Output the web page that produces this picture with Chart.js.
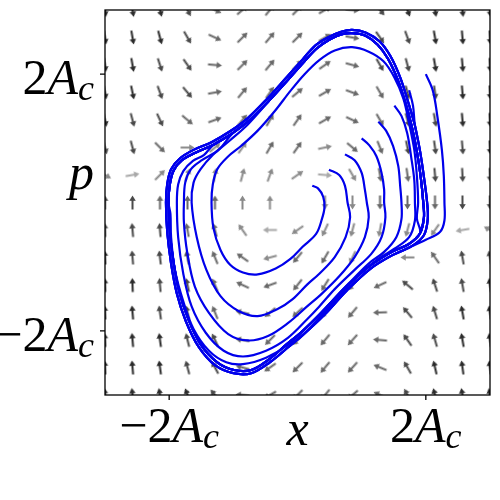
<!DOCTYPE html>
<html>
<head>
<meta charset="utf-8">
<script src="https://cdn.jsdelivr.net/npm/chart.js@4.4.1/dist/chart.umd.min.js"></script>
<style>
  html, body { margin: 0; padding: 0; background: #fff; }
  canvas { display: block; }
</style>
</head>
<body>
<canvas id="phase" width="500" height="500"></canvas>
<script>
// axis ticks (units of A_c); the axis names sit at the middle tick
const xTickValues = [-2, 0, 2];
const xTickLabels = ['−2A_c', 'x', '2A_c'];
const yTickValues = [2, 0, -2];
const yTickLabels = ['2A_c', 'p', '−2A_c'];
const tickMarks = [-2, 2];

// quiver grid
const gridX = [-3, -2.571, -2.143, -1.714, -1.286, -0.857, -0.429, 0, 0.429, 0.857, 1.286, 1.714, 2.143, 2.571, 3];
const gridY = [3, 2.571, 2.143, 1.714, 1.286, 0.857, 0.429, 0, -0.429, -0.857, -1.286, -1.714, -2.143, -2.571, -3];

// arrow direction in degrees (0 = right, 90 = up), one row per gridY value
const arrowAngle = [
  [-82, -80, -75, -62, -25, 40, 50, 45, 30, -5, -50, -70, -80, -84, -86],
  [-81, -80, -75, -60, -25, 45, 50, 45, 30, -10, -55, -70, -80, -85, -87],
  [-82, -80, -72, -55, -5, 45, 50, 45, 35, -15, -60, -75, -80, -85, -87],
  [-80, -78, -70, -50, 10, 50, 55, 40, 30, -20, -60, -75, -82, -85, -87],
  [-78, -75, -65, -40, 20, 50, 60, 55, 30, -25, -60, -75, -80, -85, -87],
  [-75, -75, -45, 0, 40, 55, 60, 55, 12, -40, -68, -78, -82, -85, -87],
  [-30, 10, 45, 70, 80, 75, 70, 35, -5, -60, -80, -82, -85, -87, -88],
  [90, 90, 90, 90, 90, 90, 90, null, -90, -90, -90, -90, -90, -90, -90],
  [92, 95, 95, 100, 105, 125, 180, -145, -115, -105, -100, -105, -125, -170, 150],
  [93, 95, 97, 101, 112, 145, 195, -130, -120, -115, -130, 180, 125, 100, 100],
  [92, 92, 95, 102, 113, 155, 200, -128, -122, -130, -155, 140, 108, 100, 98],
  [93, 95, 98, 103, 112, 168, -140, -138, -128, -130, 182, 130, 107, 100, 98],
  [93, 95, 98, 104, 115, 170, -135, -135, -130, -132, 175, 125, 106, 100, 98],
  [93, 95, 98, 105, 118, 165, -145, -135, -130, -132, 158, 120, 103, 98, 97],
  [94, 96, 100, 110, 130, 175, -150, -135, -130, -140, 155, 118, 105, 100, 100]
];

// arrow shade, 1 = light grey ... 5 = dark grey
const arrowShade = [
  [5, 5, 5, 4, 3, 3, 3, 3, 3, 3, 4, 5, 5, 5, 5],
  [5, 5, 5, 4, 3, 3, 3, 3, 3, 3, 4, 4, 5, 5, 5],
  [5, 5, 4, 4, 3, 3, 3, 3, 3, 3, 4, 4, 5, 5, 5],
  [5, 5, 4, 4, 3, 3, 3, 3, 3, 3, 3, 4, 4, 5, 5],
  [5, 4, 4, 3, 3, 3, 3, 3, 3, 3, 3, 4, 4, 5, 5],
  [4, 4, 3, 2, 2, 2, 3, 3, 2, 3, 3, 4, 4, 4, 5],
  [2, 1, 2, 2, 2, 2, 2, 2, 1, 2, 3, 3, 4, 4, 4],
  [4, 4, 3, 3, 3, 2, 2, 0, 2, 2, 3, 3, 3, 4, 4],
  [4, 4, 4, 3, 3, 2, 1, 2, 2, 2, 2, 2, 2, 1, 2],
  [5, 4, 4, 4, 3, 3, 2, 3, 3, 2, 2, 2, 3, 4, 4],
  [5, 5, 4, 4, 3, 3, 3, 3, 3, 3, 3, 4, 4, 4, 5],
  [5, 5, 4, 4, 3, 3, 3, 3, 3, 3, 3, 4, 4, 5, 5],
  [5, 5, 5, 4, 4, 3, 3, 3, 3, 3, 3, 4, 4, 5, 5],
  [5, 5, 5, 4, 4, 3, 3, 3, 3, 3, 3, 4, 5, 5, 5],
  [5, 5, 5, 5, 4, 3, 3, 3, 3, 3, 3, 4, 5, 5, 5]
];

// limit cycle, outer and inner edge of the thick bundle (clockwise from the top)
const cycleOuterX = [0.85, 1.06, 1.28, 1.45, 1.60, 1.72, 1.83, 1.91, 1.97, 2.02, 2.03, 1.97, 1.78, 1.48, 1.14, 0.77, 0.42, 0.09, -0.15, -0.43, -0.72, -1.00, -1.28, -1.54, -1.74, -1.88, -1.97, -2.03, -2.05, -2.03, -1.97, -1.83, -1.62, -1.34, -1.05, -0.77, -0.46, -0.18, 0.08, 0.28, 0.49, 0.68];
const cycleOuterY = [2.69, 2.65, 2.51, 2.28, 1.95, 1.58, 1.20, 0.80, 0.40, 0.00, -0.26, -0.51, -0.68, -0.82, -1.03, -1.37, -1.75, -2.06, -2.26, -2.49, -2.66, -2.66, -2.54, -2.25, -1.85, -1.42, -0.95, -0.46, 0.00, 0.29, 0.52, 0.69, 0.82, 0.94, 1.11, 1.32, 1.63, 1.94, 2.23, 2.45, 2.58, 2.66];
const cycleInnerX = [0.85, 1.06, 1.25, 1.41, 1.56, 1.68, 1.78, 1.86, 1.92, 1.96, 1.97, 1.91, 1.73, 1.45, 1.11, 0.74, 0.38, 0.07, -0.18, -0.44, -0.72, -0.99, -1.25, -1.51, -1.70, -1.84, -1.93, -1.99, -2.01, -1.99, -1.93, -1.80, -1.60, -1.31, -1.01, -0.74, -0.43, -0.15, 0.10, 0.30, 0.50, 0.68];
const cycleInnerY = [2.64, 2.60, 2.46, 2.24, 1.92, 1.56, 1.19, 0.80, 0.40, 0.00, -0.24, -0.48, -0.65, -0.78, -1.00, -1.33, -1.71, -2.01, -2.22, -2.44, -2.61, -2.61, -2.49, -2.21, -1.82, -1.40, -0.94, -0.46, 0.00, 0.28, 0.50, 0.66, 0.77, 0.90, 1.08, 1.29, 1.60, 1.91, 2.19, 2.40, 2.54, 2.62];

// trajectories from their start point until they join the cycle
const traj1X = [0.23, 0.32, 0.40, 0.42, 0.38, 0.29, 0.08, -0.11, -0.34, -0.62, -0.85, -1.05, -1.20, -1.31, -1.34, -1.32, -1.25, -1.09, -0.88, -0.62, -0.35, -0.11, 0.11, 0.34, 0.58, 0.85, 1.11, 1.34, 1.51, 1.65, 1.74, 1.82, 1.86, 1.88, 1.86];
const traj1Y = [0.26, 0.22, 0.09, -0.08, -0.26, -0.49, -0.69, -0.88, -1.03, -1.12, -1.09, -0.97, -0.74, -0.40, 0.00, 0.28, 0.52, 0.71, 0.88, 1.12, 1.43, 1.74, 2.00, 2.22, 2.37, 2.42, 2.35, 2.20, 1.95, 1.62, 1.23, 0.82, 0.42, 0.00, -0.25];
const traj2X = [0.49, 0.65, 0.74, 0.78, 0.82, 0.75, 0.58, 0.34, 0.15, -0.08, -0.31, -0.62, -0.92, -1.20, -1.42, -1.57, -1.65, -1.62, -1.51, -1.32, -1.05, -0.77];
const traj2Y = [0.51, 0.43, 0.26, 0.00, -0.23, -0.54, -0.85, -1.11, -1.28, -1.51, -1.66, -1.77, -1.69, -1.46, -1.05, -0.54, 0.00, 0.31, 0.52, 0.74, 0.97, 1.22];
const traj3X = [0.74, 0.89, 1.00, 1.05, 1.08, 1.11, 1.05, 0.89, 0.65, 0.38, 0.15, -0.15, -0.46, -0.77, -1.08, -1.38, -1.60, -1.72, -1.77, -1.77, -1.75, -1.66, -1.49, -1.23];
const traj3Y = [0.75, 0.66, 0.46, 0.20, 0.00, -0.23, -0.54, -0.85, -1.15, -1.42, -1.62, -1.88, -2.08, -2.15, -2.05, -1.72, -1.31, -0.77, -0.31, 0.00, 0.31, 0.52, 0.66, 0.82];
const traj4X = [1.00, 1.12, 1.23, 1.31, 1.35, 1.35, 1.37, 1.31, 1.15, 0.89, 0.58, 0.34, 0.15, -0.15, -0.49, -0.85, -1.15, -1.43, -1.65, -1.78, -1.86, -1.88, -1.86, -1.78, -1.63, -1.46];
const traj4Y = [1.00, 0.89, 0.72, 0.46, 0.20, 0.00, -0.23, -0.54, -0.80, -1.05, -1.35, -1.62, -1.82, -2.11, -2.31, -2.40, -2.31, -2.03, -1.62, -1.11, -0.54, 0.00, 0.28, 0.49, 0.65, 0.74];
const traj5X = [1.26, 1.38, 1.49, 1.57, 1.60, 1.62, 1.62, 1.54, 1.35, 1.11, 0.80, 0.46, 0.15, -0.15, -0.49, -0.85, -1.11, -1.38, -1.62, -1.78, -1.91, -1.97, -1.98];
const traj5Y = [1.26, 1.12, 0.88, 0.57, 0.26, 0.00, -0.26, -0.54, -0.77, -0.95, -1.26, -1.62, -1.94, -2.22, -2.42, -2.52, -2.49, -2.31, -1.97, -1.54, -1.05, -0.54, -0.18];
const traj6X = [1.51, 1.62, 1.71, 1.77, 1.82, 1.83, 1.83, 1.74, 1.51, 1.26, 0.92, 0.54, 0.15];
const traj6Y = [1.51, 1.35, 1.08, 0.72, 0.35, 0.00, -0.28, -0.54, -0.72, -0.88, -1.17, -1.57, -2.00];
const traj7X = [1.74, 1.80];
const traj7Y = [1.75, 1.51];
const traj8X = [2.00, 2.11, 2.18, 2.25, 2.28, 2.29, 2.29, 2.22, 2.00, 1.72];
const traj8Y = [2.00, 1.74, 1.34, 0.82, 0.42, 0.00, -0.28, -0.46, -0.58, -0.71];

// which edge of the bundle each trajectory joins, and at which cycle point
const joinEdge = ['inner', 'inner', 'inner', 'inner', 'inner', 'outer', 'outer', 'outer'];
const joinIndex = [11, 36, 34, 33, 28, 18, 6, 13];

const LINE_COLOR = 'rgb(0, 0, 235)';
const SERIF = '"Liberation Serif", "Times New Roman", serif';
const shadeColors = ['', '#a8a8a8', '#8a8a8a', '#686868', '#484848', '#2a2a2a'];

function makeArrow(color) {
    const c = document.createElement('canvas');
    c.width = 19;
    c.height = 19;
    const g = c.getContext('2d');
    g.fillStyle = color;
    g.beginPath();
    g.moveTo(2.5, 8.5);
    g.lineTo(11.2, 8.5);
    g.lineTo(11.2, 6.3);
    g.lineTo(16.5, 9.5);
    g.lineTo(11.2, 12.7);
    g.lineTo(11.2, 10.5);
    g.lineTo(2.5, 10.5);
    g.closePath();
    g.fill();
    return c;
}
const arrowImages = shadeColors.map(col => col ? makeArrow(col) : null);

const quiverPoints = [];
gridY.forEach((y, r) => {
    gridX.forEach((x, c) => {
        if (arrowAngle[r][c] === null) return;
        quiverPoints.push({ x: x, y: y, angle: arrowAngle[r][c], shade: arrowShade[r][c] });
    });
});

function buildPath(xs, ys, edge, join) {
    const cx = edge === 'inner' ? cycleInnerX : cycleOuterX;
    const cy = edge === 'inner' ? cycleInnerY : cycleOuterY;
    const pts = xs.map((v, i) => ({ x: v, y: ys[i] }));
    const n = cx.length;
    // once on the cycle, go round it one full time
    for (let k = 0; k <= n; k++) {
        const i = (join + k) % n;
        pts.push({ x: cx[i], y: cy[i] });
    }
    return pts;
}

const trajX = [traj1X, traj2X, traj3X, traj4X, traj5X, traj6X, traj7X, traj8X];
const trajY = [traj1Y, traj2Y, traj3Y, traj4Y, traj5Y, traj6Y, traj7Y, traj8Y];

const lineDatasets = trajX.map((xs, i) => ({
    data: buildPath(xs, trajY[i], joinEdge[i], joinIndex[i]),
    showLine: true,
    borderColor: LINE_COLOR,
    borderWidth: 2.2,
    pointRadius: 0,
    tension: 0.35,
    fill: false,
    clip: 0,
    order: 1
}));

const quiverDataset = {
    data: quiverPoints,
    showLine: false,
    pointRadius: 9,
    pointStyle: ctx => arrowImages[ctx.raw.shade],
    pointRotation: ctx => -ctx.raw.angle,
    clip: 0,
    order: 2
};

function drawMathLabel(ctx, text, x, y, align) {
    // 'A_c' style: leading sign/digits upright, letters italic, part after _ is a subscript
    const pieces = text.split('_');
    const m = pieces[0].match(/^([−\-0-9]*)(.*)$/);
    const parts = [];
    if (m[1]) parts.push({ t: m[1], font: '50px ' + SERIF, dy: 0 });
    if (m[2]) parts.push({ t: m[2], font: 'italic 50px ' + SERIF, dy: 0 });
    if (pieces[1]) parts.push({ t: pieces[1], font: 'italic 36px ' + SERIF, dy: 6 });
    let width = 0;
    parts.forEach(p => {
        ctx.font = p.font;
        p.w = ctx.measureText(p.t).width;
        width += p.w;
    });
    let cx = align === 'right' ? x - width : align === 'center' ? x - width / 2 : x;
    parts.forEach(p => {
        ctx.font = p.font;
        ctx.fillText(p.t, cx, y + p.dy);
        cx += p.w;
    });
}

const framePlugin = {
    id: 'frameAndLabels',
    afterDraw(chart) {
        const ctx = chart.ctx;
        const area = chart.chartArea;
        const xs = chart.scales.x;
        const ys = chart.scales.y;
        ctx.save();
        ctx.strokeStyle = '#000';
        ctx.lineWidth = 1.3;
        ctx.strokeRect(area.left, area.top, area.right - area.left, area.bottom - area.top);

        // outward tick marks
        ctx.beginPath();
        tickMarks.forEach(v => {
            const px = xs.getPixelForValue(v);
            ctx.moveTo(px, area.bottom);
            ctx.lineTo(px, area.bottom + 5);
            const py = ys.getPixelForValue(v);
            ctx.moveTo(area.left, py);
            ctx.lineTo(area.left - 5, py);
        });
        ctx.stroke();

        ctx.fillStyle = '#000';
        ctx.textBaseline = 'alphabetic';
        xTickValues.forEach((v, i) => {
            const px = xs.getPixelForValue(v);
            const base = xTickLabels[i].indexOf('_') < 0 ? area.bottom + 50 : area.bottom + 47;
            drawMathLabel(ctx, xTickLabels[i], px, base, 'center');
        });
        yTickValues.forEach((v, i) => {
            const py = ys.getPixelForValue(v);
            const base = yTickLabels[i].indexOf('_') < 0 ? py - 14 : py + 20;
            drawMathLabel(ctx, yTickLabels[i], area.left - 11, base, 'right');
        });
        ctx.restore();
    }
};

new Chart(document.getElementById('phase'), {
    type: 'scatter',
    data: { datasets: [quiverDataset].concat(lineDatasets) },
    options: {
        responsive: false,
        animation: false,
        events: [],
        layout: { padding: { left: 105, right: 5, top: 5, bottom: 105 } },
        plugins: { legend: { display: false }, tooltip: { enabled: false } },
        scales: {
            x: { type: 'linear', min: -3, max: 3, display: false },
            y: { type: 'linear', min: -3, max: 3, display: false }
        }
    },
    plugins: [framePlugin]
});
</script>
</body>
</html>
